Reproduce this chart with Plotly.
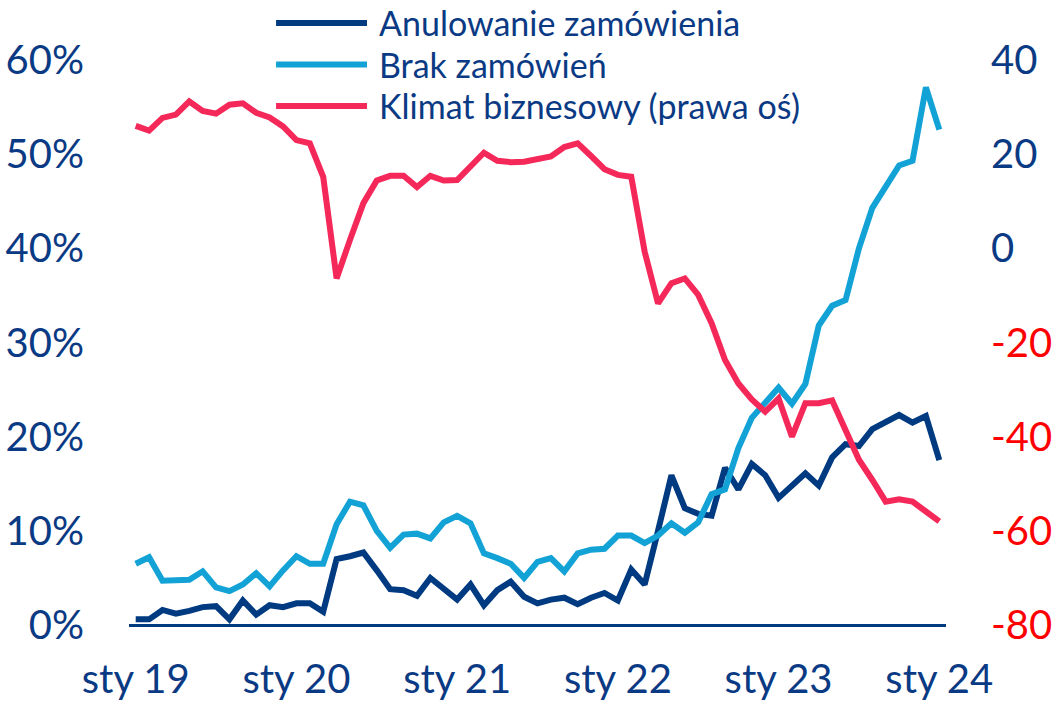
import plotly.graph_objects as go

# Monthly data, Jan 2019 .. Jan 2024 (61 months)
months = list(range(61))

anulowanie = [0.6, 0.6, 1.6, 1.2, 1.5, 1.9, 2.0, 0.6, 2.6, 1.1, 2.1, 1.9,
              2.3, 2.3, 1.4, 7.0, 7.3, 7.7, 5.8, 3.8, 3.7, 3.1, 5.0, 3.8,
              2.7, 4.3, 2.1, 3.7, 4.6, 3.0, 2.3, 2.7, 2.9, 2.2, 2.9, 3.4,
              2.6, 5.9, 4.3, 10.0, 15.9, 12.4, 11.8, 11.6, 16.7, 14.4, 17.1, 15.9,
              13.5, 14.8, 16.1, 14.8, 17.8, 19.2, 19.0, 20.8, 21.5, 22.3, 21.5, 22.2,
              17.5]

brak = [6.5, 7.2, 4.7, 4.8, 4.8, 5.7, 4.0, 3.6, 4.3, 5.5, 4.1, 5.8,
        7.3, 6.5, 6.5, 10.7, 13.1, 12.7, 10.0, 8.2, 9.6, 9.7, 9.2, 10.9,
        11.6, 10.8, 7.6, 7.1, 6.5, 5.0, 6.7, 7.1, 5.7, 7.6, 8.0, 8.1,
        9.5, 9.5, 8.7, 9.5, 10.8, 9.8, 10.9, 13.9, 14.4, 18.8, 22.0, 23.6,
        25.2, 23.5, 25.6, 31.8, 33.9, 34.5, 40.0, 44.3, 46.6, 48.8, 49.3, 57.1,
        52.6]

klimat = [26.0, 25.0, 27.7, 28.4, 31.2, 29.2, 28.6, 30.5, 30.8, 28.8, 27.8, 25.9,
          23.0, 22.3, 15.2, -6.4, 1.8, 9.6, 14.4, 15.4, 15.4, 13.0, 15.4, 14.4,
          14.5, 17.2, 20.3, 18.6, 18.3, 18.4, 18.9, 19.5, 21.5, 22.3, 19.6, 16.8,
          15.6, 15.2, -0.7, -11.7, -7.4, -6.4, -9.9, -15.9, -23.7, -28.7, -32.1, -34.7,
          -31.9, -40.0, -32.9, -32.9, -32.3, -38.9, -44.9, -49.2, -53.8, -53.3, -53.8, -55.9,
          -58.0]

x_tick_vals = [0, 12, 24, 36, 48, 60]
x_tick_text = ["sty 19", "sty 20", "sty 21", "sty 22", "sty 23", "sty 24"]
left_ticks = [0, 10, 20, 30, 40, 50, 60]
right_ticks = [-80, -60, -40, -20, 0, 20, 40]

names = ["Anulowanie zamówienia", "Brak zamówień", "Klimat biznesowy (prawa oś)"]

NAVY = "#003A80"
LIGHT = "#13A2D6"
RED = "#F5285A"
TXT = "#0B3A84"
FONT = "Lato"
LW = 6

fig = go.Figure()
fig.add_trace(go.Scatter(x=months, y=anulowanie, mode="lines", name=names[0],
                         line=dict(color=NAVY, width=LW), yaxis="y"))
fig.add_trace(go.Scatter(x=months, y=brak, mode="lines", name=names[1],
                         line=dict(color=LIGHT, width=LW), yaxis="y"))
fig.add_trace(go.Scatter(x=months, y=klimat, mode="lines", name=names[2],
                         line=dict(color=RED, width=LW), yaxis="y2"))

right_text = [(f'<span style="color:#FF0000">{v}</span>' if v < 0 else str(v)) for v in right_ticks]

fig.update_layout(
    width=1056, height=716,
    margin=dict(l=129, r=110, t=60, b=91),
    paper_bgcolor="white", plot_bgcolor="white",
    showlegend=False,
    font=dict(family=FONT, color=TXT, size=40),
    xaxis=dict(range=[-0.5, 60.5], tickvals=x_tick_vals, ticktext=x_tick_text,
               showgrid=False, zeroline=False, showline=False, ticks="",
               automargin=False,
               ticklabelstandoff=27, tickfont=dict(size=40, color=TXT)),
    yaxis=dict(range=[0, 60], tickvals=left_ticks, ticktext=[f"{v}%" for v in left_ticks],
               showgrid=False, zeroline=True, zerolinecolor=NAVY, zerolinewidth=3,
               showline=False, ticks="", ticklabelstandoff=44, automargin=False,
               tickfont=dict(size=40, color=TXT)),
    yaxis2=dict(range=[-80, 40], tickvals=right_ticks, ticktext=right_text,
                overlaying="y", side="right", showgrid=False, zeroline=False,
                showline=False, ticks="", ticklabelstandoff=44, automargin=False,
                tickfont=dict(size=40, color=TXT)),
)

# Manual legend (long line keys as in the original)
leg_y = [1.0655, 0.992, 0.9186]
leg_colors = [NAVY, LIGHT, RED]
for yy, col, nm in zip(leg_y, leg_colors, names):
    fig.add_shape(type="line", xref="paper", yref="paper", x0=0.180, x1=0.2913,
                  y0=yy, y1=yy, line=dict(color=col, width=LW))
    fig.add_annotation(xref="paper", yref="paper", x=0.3035, y=yy, text=nm,
                       showarrow=False, xanchor="left", yanchor="middle",
                       font=dict(family=FONT, size=34, color=TXT))

fig.write_html("out.html")
